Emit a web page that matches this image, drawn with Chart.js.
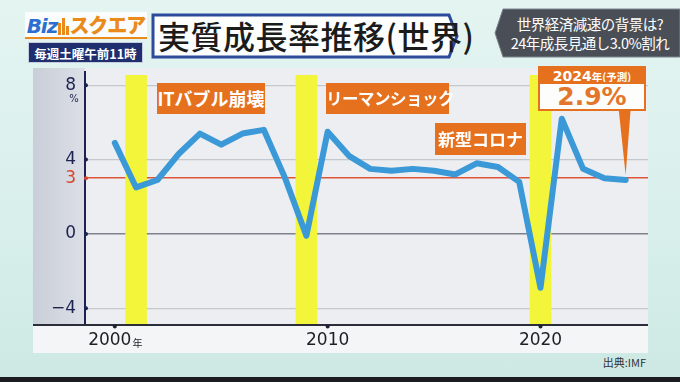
<!DOCTYPE html>
<html lang="ja">
<head>
<meta charset="utf-8">
<title>実質成長率推移(世界)</title>
<script src="https://cdn.jsdelivr.net/npm/chart.js@4.4.1/dist/chart.umd.min.js"></script>
<style>
html, body { margin: 0; padding: 0; }
body {
    width: 680px; height: 382px; overflow: hidden; position: relative;
    font-family: "Noto Sans CJK JP", "Noto Sans", sans-serif;
    background: linear-gradient(180deg, #e4f4f1 0%, #d8efeb 60%, #cde8e3 100%);
}
.abs { position: absolute; }
#logo {
    left: 25px; top: 12px; width: 122px; height: 27px; background: #fbfcfc;
    border-bottom: 2px solid #e98a1a; box-sizing: border-box;
    font-weight: 900; font-size: 20px; line-height: 25px; text-align: center; white-space: nowrap;
}
#logo .biz { color: #2c6fd1; font-family: "DejaVu Sans", sans-serif; font-style: italic; letter-spacing: -1px; }
#logo .sq { color: #e98a1a; letter-spacing: -1px; }
#sched {
    left: 28px; top: 42px; width: 115px; height: 21px; background: #1f2f6e;
    color: #fff; font-size: 12.5px; font-weight: 700; line-height: 21px; text-align: center;
    border: 1px solid #c7cde0; box-sizing: border-box;
}
#title {
    left: 158px; top: 14px; font-size: 32px; line-height: 42px; color: #1b1b1b; font-weight: 500;
    letter-spacing: 0.5px; white-space: nowrap;
}
#topnote {
    left: 500px; top: 14px; width: 180px; color: #fff; font-size: 14.5px; line-height: 19px;
    text-align: center; white-space: nowrap; letter-spacing: -0.5px;
}
#panel { left: 33px; top: 68px; width: 615px; height: 285px; }
.tag {
    background: #e5711f; color: #fff; font-weight: 700; text-align: center; white-space: nowrap;
}
#tagIT { left: 157px; top: 83px; width: 108px; height: 31px; font-size: 18px; line-height: 31px; }
#tagLS { left: 326px; top: 83px; width: 123px; height: 31px; font-size: 16.5px; line-height: 31px; letter-spacing: -0.5px; }
#tagCV { left: 435px; top: 123px; width: 91px; height: 32px; font-size: 17px; line-height: 32px; }
#cHead {
    left: 538px; top: 66px; width: 108px; height: 16px; background: #e5711f; color: #fff;
    font-weight: 700; text-align: center; line-height: 16px; white-space: nowrap;
}
#cHead .y { font-family: "DejaVu Sans", sans-serif; font-size: 14px; }
#cHead .s { font-size: 10.5px; }
#cVal {
    left: 538px; top: 82px; width: 104px; height: 25px; border: 2px solid #e5711f; background: #fdfdfb;
    color: #e3762a; font-family: "DejaVu Sans", sans-serif; font-weight: 700; font-size: 25px;
    line-height: 25px; text-align: center;
}
#src { right: 34px; top: 354px; font-size: 11px; color: #333; }
#band { left: 0; top: 377px; width: 680px; height: 5px; background: #1b1d1f; }
</style>
</head>
<body>
<svg class="abs" style="left:0;top:0" width="680" height="382">
    <polygon points="153,15 449,15 457,36 449,57 153,57" fill="rgba(255,255,255,0.9)" stroke="#2d4b9b" stroke-width="3"/>
    <polygon points="503,9 680,9 680,57 503,57 495,33" fill="#4a4f57" stroke="#7d848c" stroke-width="1"/>
</svg>
<div id="logo" class="abs"><span class="biz">Biz</span><svg width="12" height="18" style="vertical-align:-2px"><rect x="1" y="6" width="3" height="12" fill="#e98a1a"/><rect x="5" y="1" width="3" height="17" fill="#e98a1a"/><rect x="9" y="9" width="3" height="9" fill="#e98a1a"/></svg><span class="sq">スクエア</span></div>
<div id="sched" class="abs">毎週土曜午前11時</div>
<div id="title" class="abs">実質成長率推移(世界)</div>
<div id="topnote" class="abs">世界経済減速の背景は?<br>24年成長見通し3.0%割れ</div>

<div id="panel" class="abs"><canvas id="chart" width="615" height="285"></canvas></div>

<div id="tagIT" class="abs tag">ITバブル崩壊</div>
<div id="tagLS" class="abs tag">リーマンショック</div>
<div id="tagCV" class="abs tag">新型コロナ</div>
<div id="cHead" class="abs"><span class="y">2024</span><span class="s">年(予測)</span></div>
<div id="cVal" class="abs">2.9%</div>
<div id="src" class="abs">出典:IMF</div>
<div id="band" class="abs"></div>

<script>
// world real GDP growth (IMF), %
var years = [2000, 2001, 2002, 2003, 2004, 2005, 2006, 2007, 2008, 2009, 2010, 2011, 2012,
             2013, 2014, 2015, 2016, 2017, 2018, 2019, 2020, 2021, 2022, 2023, 2024];
var growth = [4.9, 2.5, 2.9, 4.3, 5.4, 4.8, 5.4, 5.6, 3.0, -0.1, 5.5, 4.2, 3.5,
              3.4, 3.5, 3.4, 3.2, 3.8, 3.6, 2.8, -2.9, 6.2, 3.5, 3.0, 2.9];
var shockYears = [2001, 2009, 2020]; // yellow bands
var yTicks = [-4, 0, 3, 4, 8];
var xTicks = [2000, 2010, 2020];
var forecastYear = 2024;
var forecastValue = 2.9;

var NAVY = '#1c2350';
var RED = '#d9472f';
var ORANGE = '#e5711f';
var Y_MIN = -4.9, Y_MAX = 8.55;

var panelPlugin = {
    id: 'panel',
    beforeDraw: function (chart) {
        var c = chart.ctx, a = chart.chartArea;
        c.save();
        c.fillStyle = '#f4f5f6';
        c.fillRect(0, 0, chart.width, chart.height);
        c.fillStyle = '#eceef1';
        c.fillRect(a.left, 0, a.right - a.left, a.bottom);
        var g = c.createLinearGradient(0, 0, a.left, 0);
        g.addColorStop(0, '#c9ced8');
        g.addColorStop(1, '#dcdfe6');
        c.fillStyle = g;
        c.fillRect(0, 0, a.left, a.bottom);
        c.restore();
    },
    afterDatasetsDraw: function (chart) {
        // pointer from the forecast box down to the last point
        var c = chart.ctx;
        var xs = chart.scales.x, ys = chart.scales.y;
        var tx = xs.getPixelForValue(forecastYear);
        var ty = ys.getPixelForValue(forecastValue) - 5;
        c.save();
        c.fillStyle = ORANGE;
        c.beginPath();
        c.moveTo(tx - 7, 41);
        c.lineTo(tx + 5, 41);
        c.lineTo(tx, ty);
        c.closePath();
        c.fill();
        c.restore();
    },
    afterDraw: function (chart) {
        var c = chart.ctx, a = chart.chartArea;
        var xs = chart.scales.x, ys = chart.scales.y;
        c.save();
        // axes
        c.strokeStyle = NAVY;
        c.lineWidth = 2;
        c.beginPath();
        c.moveTo(a.left, 3);
        c.lineTo(a.left, a.bottom);
        c.stroke();
        c.strokeStyle = '#2a2e3b';
        c.beginPath();
        c.moveTo(0, a.bottom);
        c.lineTo(chart.width, a.bottom);
        c.stroke();
        // tick dots
        yTicks.forEach(function (v) {
            c.fillStyle = v === 3 ? RED : NAVY;
            c.beginPath();
            c.arc(a.left + 1, ys.getPixelForValue(v), 2, 0, Math.PI * 2);
            c.fill();
        });
        c.fillStyle = '#1e2130';
        xTicks.forEach(function (v) {
            c.beginPath();
            c.arc(xs.getPixelForValue(v), a.bottom + 1.5, 2, 0, Math.PI * 2);
            c.fill();
        });
        // unit under the 8
        c.fillStyle = NAVY;
        c.font = '10px "DejaVu Sans"';
        c.textAlign = 'center';
        c.textBaseline = 'middle';
        c.fillText('%', a.left - 11, ys.getPixelForValue(8) + 14);
        // x labels, first one with a small 年
        c.fillStyle = '#1e1f24';
        xTicks.forEach(function (v, i) {
            var px = xs.getPixelForValue(v);
            var py = a.bottom + 16;
            c.font = '17px "DejaVu Sans"';
            if (i === 0) {
                var w = c.measureText(String(v)).width;
                c.font = '10px "Noto Sans CJK JP"';
                var w2 = c.measureText('年').width;
                var left = px - (w + w2) / 2;
                c.textAlign = 'left';
                c.fillText('年', left + w + 1, py + 2);
                c.font = '17px "DejaVu Sans"';
                c.fillText(String(v), left, py);
            } else {
                c.textAlign = 'center';
                c.fillText(String(v), px, py);
            }
        });
        c.restore();
    }
};

new Chart(document.getElementById('chart'), {
    type: 'line',
    data: {
        datasets: [{
            type: 'line',
            data: years.map(function (y, i) { return { x: y, y: growth[i] }; }),
            borderColor: '#3b99d8',
            borderWidth: 6,
            pointRadius: 0,
            tension: 0,
            borderJoinStyle: 'round',
            borderCapStyle: 'round',
            order: 1
        }, {
            type: 'bar',
            data: shockYears.map(function (y) { return { x: y, y: [Y_MIN, Y_MAX] }; }),
            backgroundColor: '#f3f53a',
            barThickness: 21,
            grouped: false,
            order: 2
        }]
    },
    options: {
        responsive: false,
        animation: false,
        events: [],
        layout: { padding: { top: 7, left: 0, right: 0, bottom: 0 } },
        plugins: { legend: { display: false }, tooltip: { enabled: false } },
        scales: {
            x: {
                type: 'linear',
                offset: false,
                min: 1998.6,
                max: 2025.05,
                afterBuildTicks: function (s) { s.ticks = xTicks.map(function (v) { return { value: v }; }); },
                afterFit: function (s) { s.height = 28; s.paddingLeft = 0; s.paddingRight = 0; },
                ticks: { display: false },
                grid: { display: false, offset: false },
                border: { display: false }
            },
            y: {
                min: Y_MIN,
                max: Y_MAX,
                afterBuildTicks: function (s) { s.ticks = yTicks.map(function (v) { return { value: v }; }); },
                afterFit: function (s) { s.width = 52; s.paddingTop = 0; s.paddingBottom = 0; },
                ticks: {
                    padding: 9,
                    font: { family: 'DejaVu Sans', size: 17 },
                    color: function (c) { return c.tick && c.tick.value === 3 ? RED : NAVY; },
                    callback: function (v) { return v < 0 ? '\u2212' + Math.abs(v) : String(v); }
                },
                grid: {
                    drawTicks: false,
                    color: function (c) {
                        var v = c.tick && c.tick.value;
                        return v === 3 ? '#e0543a' : v === 0 ? '#7d828b' : '#c4c8cd';
                    },
                    lineWidth: function (c) {
                        var v = c.tick && c.tick.value;
                        return v === 3 || v === 0 ? 1.6 : 1.2;
                    }
                },
                border: { display: false }
            }
        }
    },
    plugins: [panelPlugin]
});
</script>
</body>
</html>
